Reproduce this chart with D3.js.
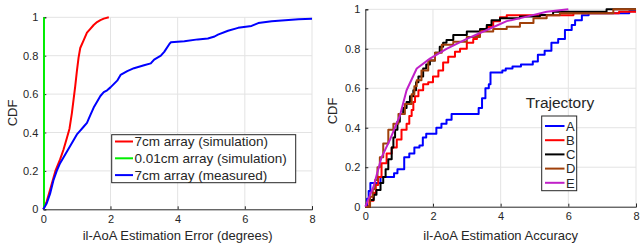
<!DOCTYPE html>
<html><head><meta charset="utf-8">
<script src="https://cdn.jsdelivr.net/npm/d3@7"></script>
<style>
html,body{margin:0;padding:0;background:#fff;}
text{font-family:"Liberation Sans",Arial,sans-serif;fill:#262626;}
</style></head>
<body><svg id="c" width="640" height="248"></svg>
<script>
// ---------- data: left panel ----------
const leftXTicks = [0,2,4,6,8];
const yTicks = [0,0.2,0.4,0.6,0.8,1];
const yTickLabels = ["0","0.2","0.4","0.6","0.8","1"];
const leftSeriesNames = ["7cm array (simulation)","0.01cm array (simulation)","7cm array (measured)"];
const sim7cm = [[0,0],[0.1,0.04],[0.2,0.1],[0.36,0.2],[0.5,0.26],[0.6,0.31],[0.7,0.37],[0.78,0.42],[0.85,0.5],[0.9,0.57],[0.95,0.64],[1.0,0.72],[1.05,0.79],[1.1,0.84],[1.2,0.88],[1.3,0.92],[1.4,0.94],[1.5,0.96],[1.6,0.975],[1.7,0.985],[1.8,0.993],[1.95,1]];
const sim001cm = [[0.02,0],[0.02,1]];
const meas7cm = [[0,0],[0.1,0.03],[0.2,0.08],[0.3,0.15],[0.4,0.2],[0.5,0.24],[0.6,0.27],[0.7,0.3],[0.8,0.33],[0.9,0.36],[1.0,0.39],[1.1,0.41],[1.2,0.43],[1.3,0.45],[1.4,0.49],[1.5,0.53],[1.6,0.56],[1.7,0.59],[1.8,0.61],[1.9,0.62],[2.0,0.635],[2.2,0.67],[2.3,0.7],[2.5,0.72],[2.7,0.735],[3.0,0.75],[3.2,0.76],[3.3,0.78],[3.5,0.8],[3.6,0.82],[3.75,0.86],[3.8,0.87],[4.2,0.875],[4.6,0.885],[4.9,0.89],[5.1,0.9],[5.2,0.91],[5.5,0.93],[5.8,0.945],[6.2,0.955],[6.4,0.97],[6.8,0.98],[7.2,0.985],[7.6,0.99],[8,0.993]];

// ---------- data: right panel ----------
const rightXTicks = [0,2,4,6,8];
const trajNames = ["A","B","C","D","E"];
const trajA = [[0,0],[0.05,0.04],[0.1,0.08],[0.15,0.12],[0.45,0.15],[0.85,0.17],[0.95,0.19],[1.15,0.25],[1.3,0.27],[1.45,0.3],[1.6,0.31],[1.7,0.35],[1.8,0.37],[2.1,0.4],[2.25,0.42],[2.4,0.44],[2.55,0.47],[3.35,0.5],[3.45,0.55],[3.55,0.6],[3.65,0.62],[3.7,0.68],[4.05,0.69],[4.15,0.70],[4.35,0.71],[4.6,0.72],[4.95,0.735],[5.1,0.77],[5.3,0.79],[5.5,0.83],[5.7,0.85],[5.9,0.895],[6.1,0.92],[6.2,0.945],[6.4,0.97],[6.6,0.98],[7.8,0.99],[8,0.99]];
const trajB = [[0,0],[0.12,0.03],[0.24,0.07],[0.31,0.11],[0.38,0.15],[0.48,0.22],[0.63,0.27],[0.78,0.30],[0.93,0.34],[1.07,0.39],[1.22,0.42],[1.3,0.46],[1.37,0.49],[1.42,0.53],[1.47,0.56],[1.57,0.59],[1.71,0.62],[1.86,0.63],[2.0,0.66],[2.16,0.69],[2.3,0.73],[2.45,0.76],[2.65,0.785],[2.8,0.8],[3.0,0.83],[3.19,0.85],[3.3,0.87],[3.39,0.895],[3.59,0.91],[3.78,0.94],[3.98,0.96],[4.18,0.97],[6.15,0.98],[7.5,0.988],[8,0.988]];
const trajC = [[0,0],[0.14,0.034],[0.25,0.06],[0.33,0.084],[0.45,0.12],[0.53,0.15],[0.6,0.19],[0.68,0.24],[0.78,0.3],[0.83,0.35],[0.88,0.39],[0.95,0.43],[1.02,0.47],[1.12,0.5],[1.22,0.53],[1.32,0.56],[1.42,0.59],[1.5,0.63],[1.57,0.66],[1.71,0.70],[1.8,0.72],[1.91,0.74],[2.06,0.78],[2.2,0.81],[2.3,0.83],[2.4,0.845],[2.6,0.87],[3.0,0.887],[3.39,0.9],[3.59,0.92],[3.73,0.945],[3.98,0.955],[4.57,0.963],[5.16,0.971],[5.55,0.988],[7.13,1.0],[8,1.0]];
const trajD = [[0,0],[0.14,0.05],[0.22,0.09],[0.29,0.135],[0.36,0.2],[0.43,0.25],[0.53,0.32],[0.68,0.39],[0.83,0.42],[0.98,0.47],[1.17,0.52],[1.37,0.57],[1.45,0.61],[1.52,0.64],[1.66,0.69],[1.86,0.74],[2.06,0.78],[2.26,0.82],[2.6,0.836],[3.0,0.86],[3.39,0.887],[3.78,0.9],[4.18,0.912],[4.57,0.93],[4.97,0.955],[5.36,0.97],[5.75,0.98],[7.33,1.0],[8,1.0]];
const trajE = [[0,0],[0.24,0.1],[0.48,0.25],[0.73,0.34],[1.02,0.46],[1.22,0.59],[1.52,0.70],[1.91,0.75],[2.4,0.80],[3.0,0.85],[3.59,0.895],[4.18,0.94],[4.77,0.963],[5.36,0.988],[6.0,1.0]];

const svg = d3.select("#c");
const gridColor = "#e3e3e3";
const axisColor = "#262626";

function panel(cfg){
  const x = d3.scaleLinear().domain([0,8]).range([cfg.x0,cfg.x1]);
  const y = d3.scaleLinear().domain([0,1]).range([cfg.y0,cfg.y1]);
  const g = svg.append("g");
  // grid
  g.append("g").selectAll("line").data(cfg.xTicks.filter(d=>d>0)).join("line")
    .attr("x1",d=>x(d)).attr("x2",d=>x(d)).attr("y1",y(0)).attr("y2",y(1))
    .attr("stroke",gridColor).attr("stroke-width",1);
  g.append("g").selectAll("line").data(yTicks.filter(d=>d>0)).join("line")
    .attr("y1",d=>y(d)).attr("y2",d=>y(d)).attr("x1",x(0)).attr("x2",x(8))
    .attr("stroke",gridColor).attr("stroke-width",1);
  // axes
  const ax = g.append("g").attr("transform",`translate(0,${y(0)})`)
    .call(d3.axisBottom(x).tickValues(cfg.xTicks).tickFormat(d3.format("d")).tickSize(-3).tickPadding(6));
  const ay = g.append("g").attr("transform",`translate(${x(0)},0)`)
    .call(d3.axisLeft(y).tickValues(yTicks).tickFormat((d,i)=>yTickLabels[i]).tickSize(-3).tickPadding(5));
  [ax,ay].forEach(a=>{
    a.select(".domain").attr("stroke",axisColor).attr("stroke-width",1);
    a.selectAll(".tick line").attr("stroke",axisColor);
    a.selectAll("text").attr("font-size",11).attr("fill",axisColor).style("font-family","Liberation Sans, Arial, sans-serif");
  });
  // labels
  g.append("text").attr("x",(cfg.x0+cfg.x1)/2).attr("y",cfg.xlabY).attr("text-anchor","middle")
    .attr("font-size",13).text(cfg.xlabel);
  g.append("text").attr("transform",`translate(${cfg.ylabX},${cfg.ylabCY}) rotate(-90)`)
    .attr("text-anchor","middle").attr("font-size",13).text("CDF");
  return {x,y,g};
}

// ---------- left panel ----------
const L = panel({x0:43.3,x1:312,y0:209.3,y1:17.3,xTicks:leftXTicks,
  xlabel:"il-AoA Estimation Error (degrees)",xlabY:239.5,ylabX:17,ylabCY:113});
const leftSeries = [sim7cm,sim001cm,meas7cm];
const leftColors = ["#ff0000","#00ee00","#0000ff"];
const lineL = d3.line().x(d=>L.x(d[0])).y(d=>L.y(d[1])).curve(d3.curveLinear);
leftSeries.forEach((s,i)=>{
  L.g.append("path").datum(s).attr("d",lineL).attr("fill","none")
    .attr("stroke",leftColors[i]).attr("stroke-width",2).attr("stroke-linejoin","round");
});
// legend left
const lg = svg.append("g");
lg.append("rect").attr("x",111.7).attr("y",134.7).attr("width",184).attr("height",48)
  .attr("fill","#fff").attr("stroke","#262626").attr("stroke-width",1);
leftSeriesNames.forEach((n,i)=>{
  const cy = 141.5 + i*16.8;
  lg.append("line").attr("x1",115).attr("x2",133).attr("y1",cy).attr("y2",cy)
    .attr("stroke",leftColors[i]).attr("stroke-width",2);
  lg.append("text").attr("x",134.5).attr("y",cy+4.8).attr("font-size",13.5).text(n);
});

// ---------- right panel ----------
const R = panel({x0:365.3,x1:636,y0:206.7,y1:9.3,xTicks:rightXTicks,
  xlabel:"il-AoA Estimation Accuracy",xlabY:239.5,ylabX:337,ylabCY:111});
const trajSeries = [trajA,trajB,trajC,trajD,trajE];
const trajColors = ["#0000ff","#ff0000","#000000","#a0400a","#c020c8"];
trajSeries.forEach((s,i)=>{
  const ln = d3.line().x(d=>R.x(d[0])).y(d=>R.y(d[1])).curve(i<4?d3.curveStepAfter:d3.curveLinear);
  R.g.append("path").datum(s).attr("d",ln).attr("fill","none")
    .attr("stroke",trajColors[i]).attr("stroke-width",2).attr("stroke-linejoin","round");
});
// legend right
const rg = svg.append("g");
rg.append("text").attr("x",560).attr("y",107.5).attr("text-anchor","middle").attr("font-size",15.5).text("Trajectory");
rg.append("rect").attr("x",541.7).attr("y",116).attr("width",35).attr("height",74.7)
  .attr("fill","#fff").attr("stroke","#262626").attr("stroke-width",1);
trajNames.forEach((n,i)=>{
  const cy = 126 + i*14.2;
  rg.append("line").attr("x1",545).attr("x2",564.5).attr("y1",cy).attr("y2",cy)
    .attr("stroke",trajColors[i]).attr("stroke-width",2);
  rg.append("text").attr("x",566).attr("y",cy+4.8).attr("font-size",13).text(n);
});
</script></body></html>
